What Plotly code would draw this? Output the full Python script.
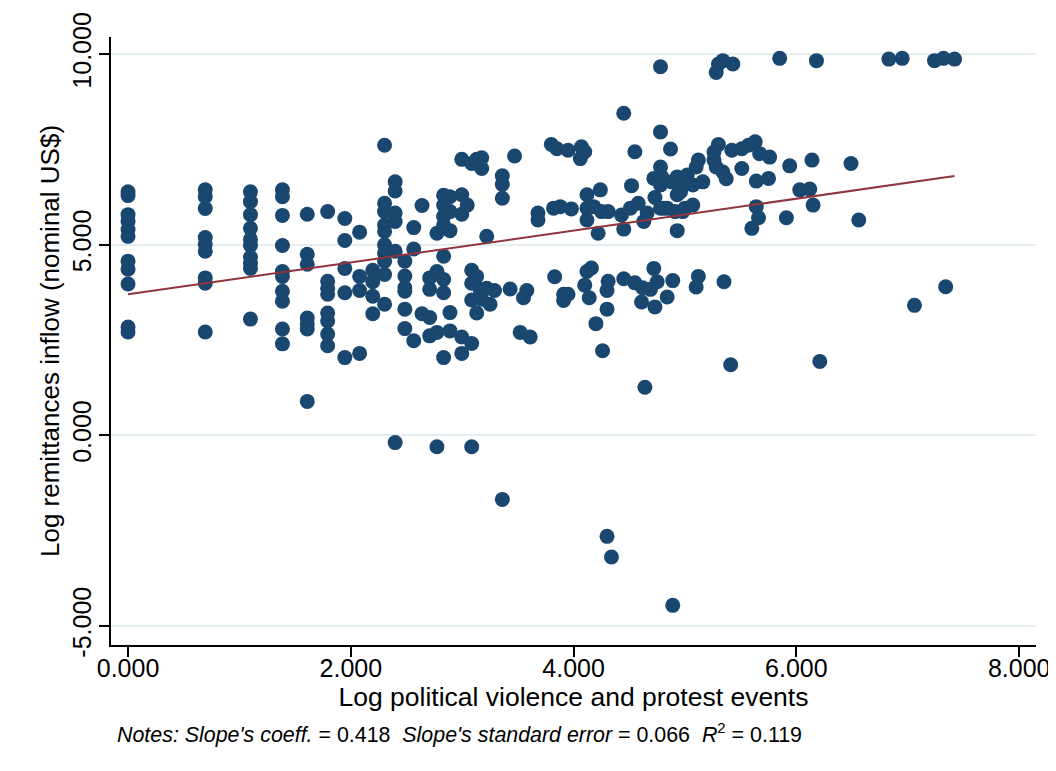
import plotly.graph_objects as go

# ---- data ----
x_vals = (
    [0.0] * 11 + [0.693] * 9 + [1.099] * 10 + [1.386] * 10 + [1.609] * 7 + [1.792] * 8
    + [1.946] * 5 + [2.079] * 4 + [2.197] * 4 + [2.303] * 10 + [2.398] * 6 + [2.485] * 6
    + [2.565] * 3 + [2.639] * 2
    + [2.708, 2.708, 2.708, 2.708,
       2.773, 2.773, 2.773, 2.773,
       2.833, 2.833, 2.833, 2.833, 2.833, 2.833, 2.833, 2.833,
       2.890, 2.890, 2.890, 2.890, 2.890,
       2.996, 2.996, 2.996, 2.996, 2.996,
       3.045,
       3.085, 3.085, 3.085, 3.085, 3.085, 3.085, 3.13, 3.13, 3.13,
       3.16, 3.175, 3.175, 3.175, 3.22, 3.22, 3.25, 3.29,
       3.36, 3.36, 3.36, 3.36, 3.43, 3.47, 3.52, 3.58, 3.55, 3.61, 3.68, 3.68,
       3.80, 3.85, 3.82, 3.88, 3.83, 3.91, 3.95, 3.91, 3.95, 3.98,
       4.07, 4.10, 4.06, 4.12, 4.24, 4.12, 4.18, 4.25, 4.31, 4.12, 4.22,
       4.12, 4.16, 4.10, 4.14, 4.20, 4.30, 4.31, 4.30, 4.26, 4.30, 4.34,
       4.45, 4.52, 4.55, 4.43, 4.51, 4.58, 4.66, 4.63, 4.45,
       4.45, 4.55, 4.62, 4.69, 4.72, 4.75, 4.61, 4.73, 4.84, 4.89, 4.64, 4.89,
       4.78, 4.78, 4.87, 4.73, 4.78, 4.84, 4.91, 4.93, 4.78, 4.72, 4.78, 4.79,
       4.93, 4.98, 5.02, 5.07, 5.16, 5.10, 5.12, 4.93, 5.07, 4.98, 4.88, 4.96,
       4.81, 5.00, 5.12, 5.10, 5.35,
       5.28, 5.30, 5.34, 5.43, 5.30, 5.26, 5.26, 5.28, 5.34, 5.37,
       5.42, 5.51, 5.57, 5.63, 5.67, 5.76, 5.51, 5.94, 6.14, 6.49,
       5.64, 5.75, 6.03, 6.12, 6.15, 5.64, 5.66, 5.60, 5.91, 6.56,
       5.41, 6.21, 7.06, 7.34,
       5.85, 6.18, 6.83, 6.95, 7.24, 7.32, 7.42]
)

y_vals = (
    [6.39, 6.29, 5.79, 5.61, 5.40, 5.22, 4.57, 4.36, 3.97, 2.84, 2.71]
    + [6.44, 6.26, 5.95, 5.19, 5.01, 4.83, 4.13, 3.99, 2.71]
    + [6.39, 6.13, 5.79, 5.43, 5.14, 4.98, 4.67, 4.51, 4.38, 3.05]
    + [6.44, 6.26, 5.77, 4.98, 4.30, 4.17, 3.78, 3.52, 2.79, 2.40]
    + [5.80, 4.75, 4.49, 3.08, 2.92, 2.79, 0.89]
    + [5.87, 4.04, 3.86, 3.70, 3.21, 3.00, 2.66, 2.35]
    + [5.69, 5.11, 4.38, 3.74, 2.04]
    + [5.33, 4.17, 3.80, 2.15]
    + [4.33, 4.03, 3.65, 3.19]
    + [7.61, 6.09, 5.87, 5.52, 5.35, 5.00, 4.78, 4.57, 4.22, 3.44]
    + [6.65, 6.41, 5.83, 5.61, 4.83, -0.19]
    + [4.57, 4.18, 3.87, 3.78, 3.31, 2.80]
    + [5.45, 4.89, 2.48]
    + [6.03, 3.19]
    + [4.13, 3.83, 3.09, 2.61,
       4.30, 5.30, 2.70, -0.30,
       6.30, 6.04, 5.74, 5.52, 4.70, 4.09, 3.74, 2.04,
       3.22, 2.74, 6.26, 5.87, 5.37,
       7.24, 6.31, 5.80, 2.58, 2.15,
       6.04,
       7.13, 4.33, 3.99, 3.55, 2.41, -0.30, 4.17, 3.21, 7.24,
       3.83, 7.28, 7.00, 3.57, 3.86, 5.22, 3.44, 3.80,
       6.81, 6.58, 6.22, -1.68, 3.84, 7.33, 2.70, 3.80, 3.61, 2.58, 5.83, 5.65,
       7.63, 7.52, 5.96, 6.00, 4.16, 3.70, 3.70, 3.54, 7.48, 5.94,
       7.57, 7.44, 7.26, 6.31, 6.44, 5.96, 6.00, 5.87, 5.87, 5.65, 5.30,
       4.30, 4.39, 3.94, 3.61, 2.93, 3.31, 4.04, 3.80, 2.22, -2.65, -3.19,
       8.45, 6.55, 7.44, 5.78, 5.96, 6.09, 5.83, 5.61, 5.41,
       4.11, 4.00, 3.87, 3.83, 4.38, 4.03, 3.50, 3.37, 3.63, 4.06, 1.26, -4.46,
       9.67, 7.96, 7.51, 6.24, 5.96, 5.96, 5.87, 5.37, 7.04, 6.74, 6.57, 6.78,
       6.78, 6.57, 6.83, 6.57, 6.65, 7.04, 7.22, 6.31, 6.04, 5.87, 6.65, 6.39,
       5.96, 5.96, 4.17, 3.89, 4.03,
       9.52, 9.74, 9.83, 9.74, 7.63, 7.43, 7.22, 7.04, 6.91, 6.73,
       7.48, 7.52, 7.61, 7.70, 7.39, 7.30, 7.00, 7.07, 7.22, 7.13,
       6.67, 6.74, 6.44, 6.46, 6.04, 6.00, 5.71, 5.43, 5.71, 5.65,
       1.85, 1.94, 3.41, 3.90,
       9.89, 9.83, 9.87, 9.89, 9.83, 9.89, 9.87]
)

# fitted line (intercept, slope from the note)
fit_intercept = 3.70
fit_slope = 0.418

x_tick_vals = [0, 2, 4, 6, 8]
x_tick_text = ["0.000", "2.000", "4.000", "6.000", "8.000"]
y_tick_vals = [-5, 0, 5, 10]
y_tick_text = ["-5.000", "0.000", "5.000", "10.000"]

x_title = "Log political violence and protest events"
y_title = "Log remittances inflow (nominal US$)"
note_text = ("<i>Notes: Slope's coeff.</i> = 0.418&nbsp;&nbsp;<i>Slope's standard error</i> = 0.066"
             "&nbsp;&nbsp;<i>R</i><sup>2</sup> = 0.119")

FONT = "Liberation Sans, Arial, Helvetica, sans-serif"
MARKER_COLOR = "#1a476f"
LINE_COLOR = "#90353b"
GRID_COLOR = "#e4edf0"

x_lo, x_hi = min(x_vals), max(x_vals)
fit_x = [x_lo, x_hi]
fit_y = [fit_intercept + fit_slope * v for v in fit_x]

fig = go.Figure()
fig.add_trace(go.Scatter(
    x=x_vals, y=y_vals, mode="markers",
    marker=dict(color=MARKER_COLOR, size=15, line=dict(width=0)),
    showlegend=False, hoverinfo="x+y",
))
fig.add_trace(go.Scatter(
    x=fit_x, y=fit_y, mode="lines",
    line=dict(color=LINE_COLOR, width=2),
    showlegend=False,
))

# the page adds an 8px body margin, so the figure is 8px smaller than the window
fig.update_layout(
    width=1048, height=763,
    margin=dict(l=103, r=20, t=29, b=126, autoexpand=False),
    paper_bgcolor="white", plot_bgcolor="white",
    font=dict(family=FONT, color="black"),
    xaxis=dict(
        range=[-0.153, 8.151],
        tickvals=x_tick_vals, ticktext=x_tick_text,
        ticks="outside", ticklen=10, tickwidth=1.5, tickcolor="black",
        ticklabelstandoff=-10,
        showline=True, linecolor="black", linewidth=1.5,
        showgrid=False, zeroline=False, automargin=False,
        tickfont=dict(size=25),
        title=dict(text=x_title, font=dict(size=26.5), standoff=5),
    ),
    yaxis=dict(
        range=[-5.50, 10.45],
        tickvals=y_tick_vals, ticktext=y_tick_text,
        ticks="outside", ticklen=10, tickwidth=1.5, tickcolor="black",
        tickangle=-90, ticklabelstandoff=-2,
        showline=True, linecolor="black", linewidth=1.5,
        showgrid=True, gridcolor=GRID_COLOR, gridwidth=2,
        zeroline=False, automargin=False,
        tickfont=dict(size=25),
        title=dict(text=y_title, font=dict(size=26), standoff=1),
    ),
    annotations=[dict(
        text=note_text, xref="paper", yref="paper",
        x=0.0043, y=-0.1447, xanchor="left", yanchor="middle",
        showarrow=False, font=dict(size=21.4, color="black"),
    )],
)

fig.write_html("out.html")
